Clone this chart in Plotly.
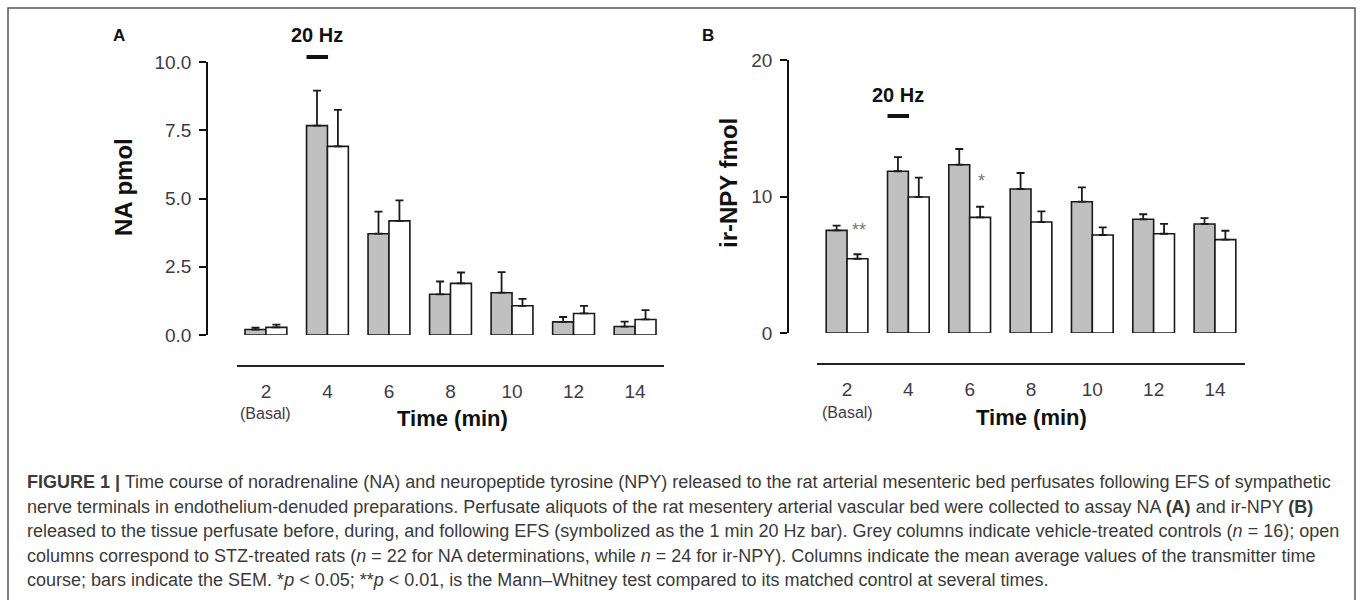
import plotly.graph_objects as go

# ---------------- data ----------------
times = [2, 4, 6, 8, 10, 12, 14]
time_labels = ["2", "4", "6", "8", "10", "12", "14"]

# Panel A: noradrenaline (pmol)
na_control = [0.20, 7.67, 3.71, 1.49, 1.55, 0.48, 0.31]
na_control_sem = [0.07, 1.28, 0.81, 0.47, 0.75, 0.18, 0.18]
na_stz = [0.28, 6.91, 4.18, 1.89, 1.07, 0.79, 0.57]
na_stz_sem = [0.10, 1.34, 0.75, 0.40, 0.25, 0.28, 0.34]

# Panel B: ir-NPY (fmol)
npy_control = [7.52, 11.85, 12.33, 10.55, 9.62, 8.33, 7.99]
npy_control_sem = [0.34, 1.04, 1.15, 1.17, 1.05, 0.37, 0.43]
npy_stz = [5.44, 9.96, 8.47, 8.13, 7.18, 7.27, 6.84]
npy_stz_sem = [0.33, 1.42, 0.78, 0.78, 0.56, 0.72, 0.65]

na_ticks = [0, 2.5, 5, 7.5, 10]
na_ticktext = ["0.0", "2.5", "5.0", "7.5", "10.0"]
npy_ticks = [0, 10, 20]
npy_ticktext = ["0", "10", "20"]

caption_lines = [
    "<b>FIGURE 1 |</b> Time course of noradrenaline (NA) and neuropeptide tyrosine (NPY) released to the rat arterial mesenteric bed perfusates following EFS of sympathetic",
    "nerve terminals in endothelium-denuded preparations. Perfusate aliquots of the rat mesentery arterial vascular bed were collected to assay NA <b>(A)</b> and ir-NPY <b>(B)</b>",
    "released to the tissue perfusate before, during, and following EFS (symbolized as the 1 min 20 Hz bar). Grey columns indicate vehicle-treated controls (<i>n</i> = 16); open",
    "columns correspond to STZ-treated rats (<i>n</i> = 22 for NA determinations, while <i>n</i> = 24 for ir-NPY). Columns indicate the mean average values of the transmitter time",
    "course; bars indicate the SEM. *<i>p</i> &lt; 0.05; **<i>p</i> &lt; 0.01, is the Mann–Whitney test compared to its matched control at several times.",
]

W, H = 1360, 600
GREY = "#c0c0c0"
EDGE = "#1a1a1a"
TICKC = "#3f3a48"
FONT = "Liberation Sans, Arial, sans-serif"


def px(x):
    return x / W


def py(y):
    return (H - y) / H


fig = go.Figure()


def add_pair(ctrl, ctrl_sem, stz, stz_sem, xa, ya):
    for vals, sem, fill in ((ctrl, ctrl_sem, GREY), (stz, stz_sem, "white")):
        fig.add_trace(go.Bar(
            x=times, y=vals, xaxis=xa, yaxis=ya,
            marker=dict(color=fill, line=dict(color=EDGE, width=1.6)),
            error_y=dict(type="data", array=sem, arrayminus=[0] * len(sem),
                         symmetric=False, color=EDGE, thickness=1.8, width=4),
            cliponaxis=False, showlegend=False, hoverinfo="skip",
        ))


add_pair(na_control, na_control_sem, na_stz, na_stz_sem, "x", "y")
add_pair(npy_control, npy_control_sem, npy_stz, npy_stz_sem, "x2", "y2")

xcommon = dict(tickvals=times, ticktext=time_labels, ticks="", showgrid=False,
               zeroline=False, showline=True, linecolor="#222", linewidth=2,
               tickfont=dict(family=FONT, size=19, color=TICKC),
               ticklabelstandoff=8, anchor="free", automargin=False)
ycommon = dict(showgrid=False, zeroline=False, showline=True, linecolor="#111",
               linewidth=1.5, ticks="outside", ticklen=7, tickwidth=1.5,
               tickcolor="#111", tickfont=dict(family=FONT, size=19, color=TICKC),
               ticklabelstandoff=4, anchor="free", automargin=False)

fig.update_layout(
    width=W, height=H,
    margin=dict(l=0, r=0, t=0, b=0, pad=0, autoexpand=False),
    paper_bgcolor="white", plot_bgcolor="rgba(0,0,0,0)",
    barmode="group", bargap=0.32, bargroupgap=0,
    showlegend=False,
    xaxis=dict(domain=[px(237), px(664)], range=[1.06, 14.94], position=py(366), **xcommon),
    yaxis=dict(domain=[py(335), py(62)], range=[0, 10], tickvals=na_ticks,
               ticktext=na_ticktext, position=px(207), **ycommon),
    xaxis2=dict(domain=[px(817), px(1245)], range=[1.02, 14.98], position=py(364), **xcommon),
    yaxis2=dict(domain=[py(333), py(60)], range=[0, 20], tickvals=npy_ticks,
                ticktext=npy_ticktext, position=px(788), **ycommon),
)

ann = []


def A(**kw):
    d = dict(showarrow=False, xanchor="center", yanchor="middle")
    d.update(kw)
    ann.append(d)


# panel letters
A(text="<b>A</b>", x=px(119), y=py(35), xref="paper", yref="paper",
  font=dict(family=FONT, size=17, color="#111"))
A(text="<b>B</b>", x=px(708), y=py(35), xref="paper", yref="paper",
  font=dict(family=FONT, size=17, color="#111"))
# 20 Hz labels
A(text="<b>20 Hz</b>", x=3.66, y=py(35), xref="x", yref="paper",
  font=dict(family=FONT, size=20, color="#111"))
A(text="<b>20 Hz</b>", x=3.66, y=py(95), xref="x2", yref="paper",
  font=dict(family=FONT, size=20, color="#111"))
# y titles
A(text="<b>NA pmol</b>", x=px(123), y=py(187), xref="paper", yref="paper",
  textangle=-90, font=dict(family=FONT, size=24, color="#111"))
A(text="<b>ir-NPY fmol</b>", x=px(728), y=py(183), xref="paper", yref="paper",
  textangle=-90, font=dict(family=FONT, size=24, color="#111"))
# x titles
A(text="<b>Time (min)</b>", x=px(452), y=py(418), xref="paper", yref="paper",
  font=dict(family=FONT, size=22, color="#111"))
A(text="<b>Time (min)</b>", x=px(1031), y=py(417), xref="paper", yref="paper",
  font=dict(family=FONT, size=22, color="#111"))
# (Basal)
A(text="(Basal)", x=2, y=py(414), xref="x", yref="paper",
  font=dict(family=FONT, size=16, color=TICKC))
A(text="(Basal)", x=2, y=py(412), xref="x2", yref="paper",
  font=dict(family=FONT, size=16, color=TICKC))
# significance
A(text="**", x=2.39, y=7.55, xref="x2", yref="y2",
  font=dict(family=FONT, size=18, color="#777"))
A(text="*", x=6.39, y=11.1, xref="x2", yref="y2",
  font=dict(family=FONT, size=18, color="#777"))
# caption
cap_y = [482, 507, 531, 556, 580]
for line, yy in zip(caption_lines, cap_y):
    A(text=line, x=px(25), y=py(yy), xref="paper", yref="paper", xanchor="left",
      font=dict(family=FONT, size=18, color="#3a3a3a"))
fig.update_layout(annotations=ann)

shapes = [
    dict(type="line", xref="x", yref="paper", x0=4 - 0.68, x1=4.02, y0=py(57), y1=py(57),
         line=dict(color="#111", width=4)),
    dict(type="line", xref="x2", yref="paper", x0=4 - 0.68, x1=4.02, y0=py(116), y1=py(116),
         line=dict(color="#111", width=4)),
    dict(type="rect", xref="paper", yref="paper", x0=px(8), x1=px(1355), y0=-0.05, y1=py(8),
         line=dict(color="#555", width=1.5), fillcolor="rgba(0,0,0,0)", layer="below"),
]
fig.update_layout(shapes=shapes)

fig.write_html("out.html")
